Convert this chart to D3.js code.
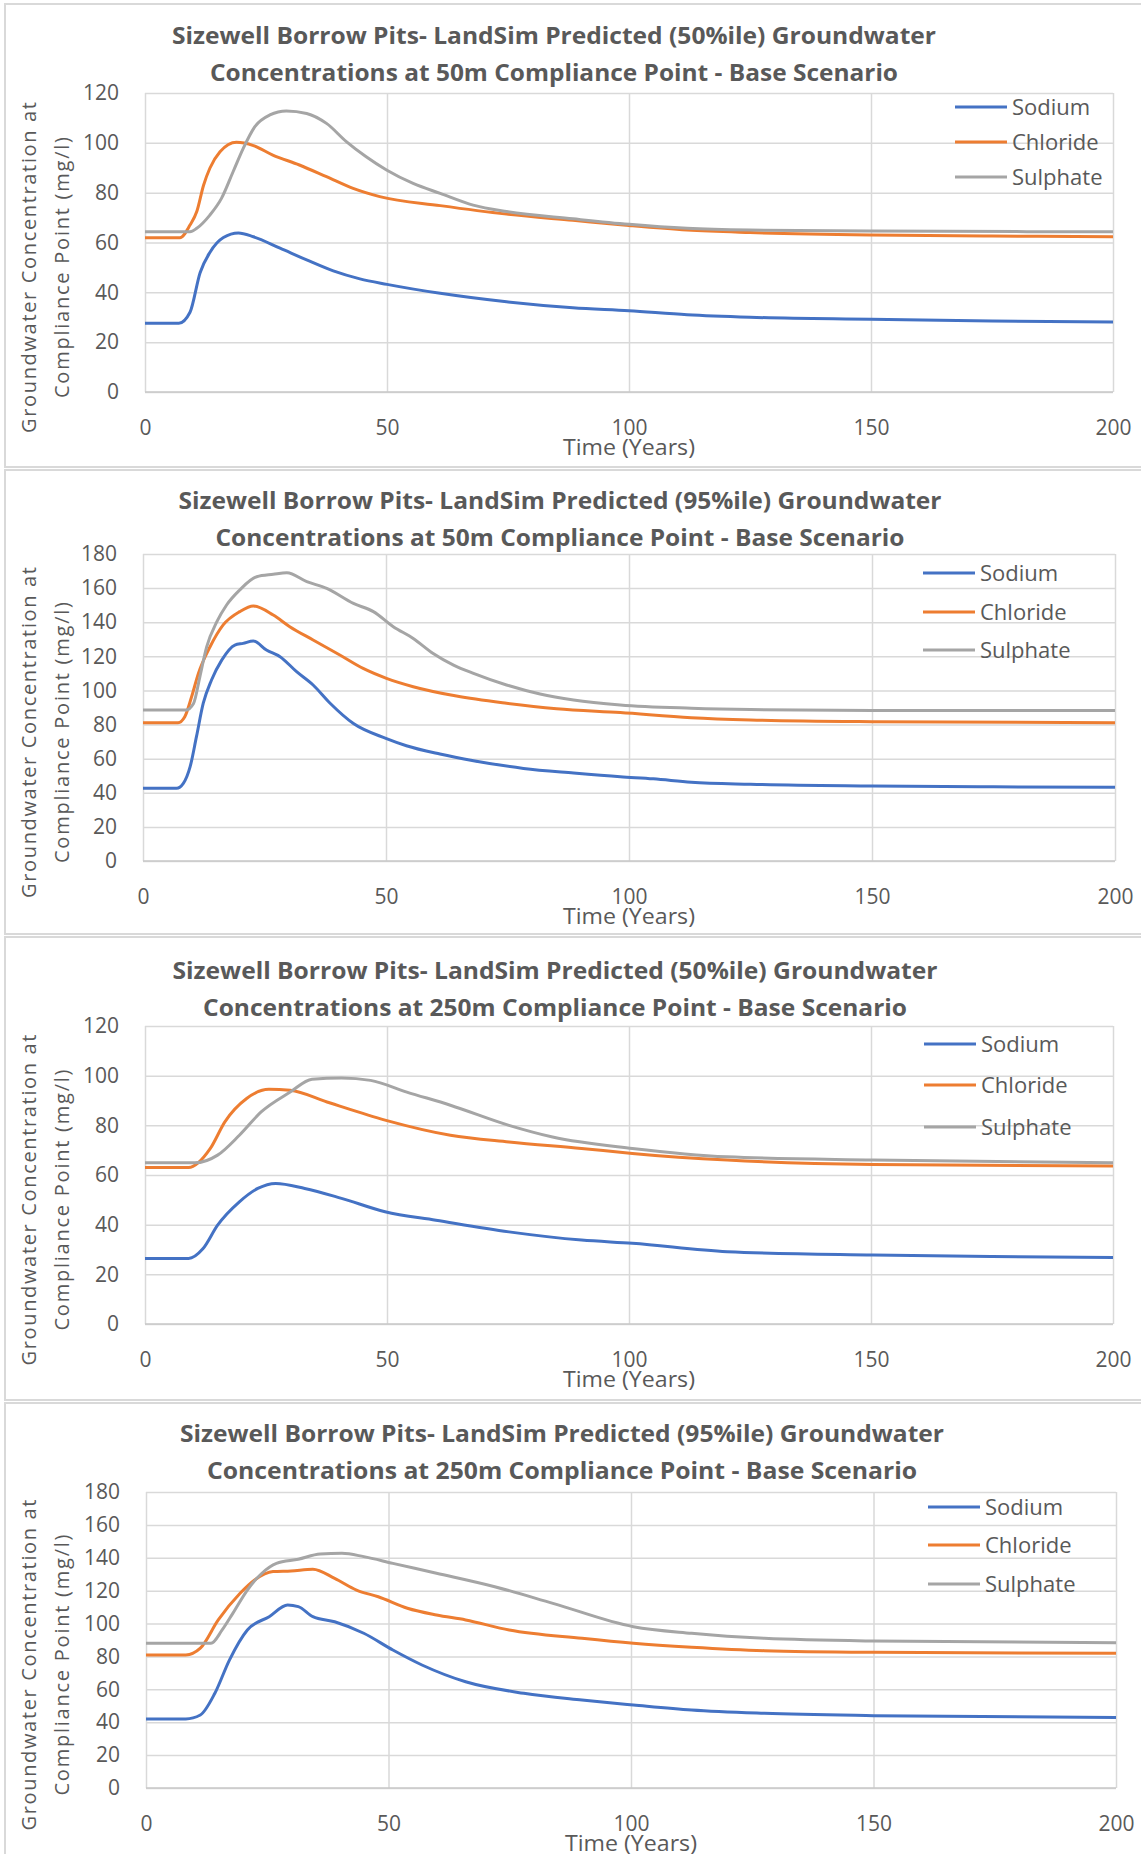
<!DOCTYPE html>
<html>
<head>
<meta charset="utf-8">
<script src="https://cdn.jsdelivr.net/npm/d3@7"></script>
<style>
  body { margin: 0; background: #fff; }
  svg { display: block; }
</style>
</head>
<body>
<div id="chart"></div>
<script>
// loading data
var seriesNames = ["Sodium", "Chloride", "Sulphate"];
var seriesColors = ["#4472C4", "#ED7D31", "#A5A5A5"];
var xTicks = [0, 50, 100, 150, 200];
var yTicks120 = [0, 20, 40, 60, 80, 100, 120];
var yTicks180 = [0, 20, 40, 60, 80, 100, 120, 140, 160, 180];
var xLabel = "Time (Years)";
var yLabel = ["Groundwater Concentration at", "Compliance Point (mg/l)"];

var titles = [
  ["Sizewell Borrow Pits- LandSim Predicted (50%ile) Groundwater", "Concentrations at 50m Compliance Point - Base Scenario"],
  ["Sizewell Borrow Pits- LandSim Predicted (95%ile) Groundwater", "Concentrations at 50m Compliance Point - Base Scenario"],
  ["Sizewell Borrow Pits- LandSim Predicted (50%ile) Groundwater", "Concentrations at 250m Compliance Point - Base Scenario"],
  ["Sizewell Borrow Pits- LandSim Predicted (95%ile) Groundwater", "Concentrations at 250m Compliance Point  - Base Scenario"]
];

// [time, mg/l] pairs
var p1Sodium = [[0,27.6],[7,27.6],[9.3,32],[11.4,48],[13.4,56],[16.2,62],[19.3,63.8],[22.4,62.3],[27.9,57.7],[33.4,53],[38.9,48.6],[44.4,45.4],[50,43.2],[61,39.6],[74.7,36.2],[88.4,33.8],[100,32.6],[112,31],[125,30],[150,29.2],[175,28.5],[200,28.1]];
var p1Chloride = [[0,61.9],[7.2,61.9],[9.3,67],[10.7,72.4],[12.1,83],[13.4,89.8],[15.5,96.4],[18.9,100.2],[22.4,98.9],[26.4,95.1],[31.9,91.1],[37.5,86.4],[43,81.7],[48.5,78.4],[61,74.8],[74.7,71.4],[88.4,68.9],[100,66.8],[112,65],[125,64],[150,63],[175,62.6],[200,62.3]];
var p1Sulphate = [[0,64.3],[9.3,64.3],[10.7,65.7],[13.4,71],[15.8,77.7],[18.2,88.4],[20.3,97.8],[22.7,106.5],[25.8,111.2],[29.2,112.8],[33.4,111.8],[37.5,107.8],[41.6,100.5],[45.7,94.4],[49.9,89.1],[55.4,83.7],[61,79.7],[67.8,75],[74.7,72.4],[88.4,69.5],[100,67.3],[112,65.7],[125,65],[150,64.6],[200,64.3]];

var p2Sodium = [[0,42.6],[6.9,42.6],[8.3,45.5],[9.7,55.3],[11,72.9],[12.4,92.5],[14.1,106.1],[16.2,117.8],[18.9,126.6],[20.6,127.6],[22.7,129],[25.4,123.7],[28.2,119.8],[31.6,111],[35,103.2],[38.5,92.5],[43.3,80.6],[50.1,71.8],[54.2,67.6],[61.1,62.7],[68,58.8],[78.3,54.3],[88.6,51.6],[98.2,49.4],[105,48.2],[112.8,46.2],[125,45],[150,44],[175,43.5],[200,43.2]];
var p2Chloride = [[0,81.1],[7.2,81.1],[8.6,84.6],[10,96.3],[11.4,110],[13.8,125.6],[16.5,138.4],[19.9,146.2],[22.7,149.5],[26.8,144.2],[30.2,137.4],[35,129.6],[40.5,120.8],[45.3,112.9],[50.1,107.1],[55.6,102.2],[64.5,96.7],[74.8,92.5],[85.1,89.3],[98.2,87],[112.8,84],[125,82.7],[150,81.7],[200,81.1]];
var p2Sulphate = [[0,88.5],[8.8,88.5],[10.4,92.4],[11.7,108],[13.1,125.6],[15.2,140.3],[17.2,150.1],[19.9,158.9],[23.4,166.7],[26.8,168.1],[29.6,169],[33.7,163.8],[37.8,159.8],[43.3,151],[47.4,146.2],[51.5,137.4],[55.6,130.5],[59.7,121.7],[63.9,114.9],[68,110],[74.8,103.2],[81.7,97.9],[88.6,94.4],[98.2,91.5],[112.8,89.6],[125,88.8],[150,88.3],[200,88.2]];

var p3Sodium = [[0,26.4],[9,26.4],[12,30.4],[15,39.8],[19.5,49.2],[23.3,54.6],[27,56.6],[33,54.6],[40.6,50.6],[49.6,45.2],[60.1,41.8],[75.2,37.1],[90.2,33.8],[100.7,32.5],[120.3,29.1],[150.4,27.8],[175,27.2],[200,26.8]];
var p3Chloride = [[0,63],[9,63],[13.5,70.7],[16.5,81.4],[21,90.8],[25.6,94.5],[30,94.1],[37.6,89.4],[49.6,82.1],[63.1,76],[75.2,73.3],[90.2,70.7],[100.7,68.7],[120.3,66],[150.4,64.2],[200,63.6]];
var p3Sulphate = [[0,64.9],[10.3,64.9],[15,68],[19.5,76],[24,85.4],[30,93.4],[34.5,98.6],[40.6,99.1],[46.6,98.1],[54.1,93.4],[63.1,88.1],[75.2,80],[84.2,75.3],[100.7,70.7],[120.3,67.3],[150.4,66],[200,64.9]];

var p4Sodium = [[0,42],[8.2,42],[11.2,44.4],[14.2,57.6],[17.2,77.8],[20.9,96.1],[25.4,104.2],[29.2,111.3],[31.4,110.3],[34.4,104.2],[38.9,101.1],[44.9,94.1],[50.9,83.9],[56.9,74.8],[65.9,64.6],[77.9,57.6],[89.9,53.5],[100.5,50.5],[112.5,47.4],[127.5,45.4],[150,44],[200,42.8]];
var p4Chloride = [[0,80.9],[8.2,80.9],[11.2,85],[14.9,102.2],[19.4,118.4],[22.4,126.5],[26.2,131.6],[29.9,132],[34.4,133],[38.9,127.5],[43.4,120.4],[47.9,116.3],[53.9,109.3],[59.9,105.2],[65.9,102.2],[74.9,96.1],[89.9,91],[100.5,88],[112.5,85.6],[127.5,83.5],[150,82.5],[200,81.9]];
var p4Sulphate = [[0,88],[13.4,88],[15.7,96.1],[17.9,106.2],[20.9,120.4],[23.9,130.6],[26.9,136.6],[31.4,139.1],[35.9,142.3],[40.4,142.7],[44.9,140.7],[50.9,136.6],[59.9,130.6],[71.9,122.4],[83.9,112.3],[100.5,98.1],[112.5,94.1],[127.5,91],[150,89.4],[200,88.4]];

// panel layout (pixel positions of each chart box on the page)
var panels = [
  { top: 4,    bottom: 467,  left: 145, right: 1113, plotTop: 93,   plotBottom: 392,  yTicks: yTicks120,
    titleX: 554, titleY: [35, 72],     titleW: [764, 688], legX: 955, legY: [107, 142, 177],
    lines: [p1Sodium, p1Chloride, p1Sulphate] },
  { top: 470,  bottom: 934,  left: 143, right: 1115, plotTop: 554,  plotBottom: 861,  yTicks: yTicks180,
    titleX: 560, titleY: [500, 537],   titleW: [763, 689], legX: 923, legY: [573, 612, 650],
    lines: [p2Sodium, p2Chloride, p2Sulphate] },
  { top: 937,  bottom: 1400, left: 145, right: 1113, plotTop: 1026, plotBottom: 1324, yTicks: yTicks120,
    titleX: 555, titleY: [970, 1007],  titleW: [765, 704], legX: 924, legY: [1044, 1085, 1127],
    lines: [p3Sodium, p3Chloride, p3Sulphate] },
  { top: 1403, bottom: 1870, left: 146, right: 1116, plotTop: 1492, plotBottom: 1788, yTicks: yTicks180,
    titleX: 562, titleY: [1433, 1470], titleW: [764, 710], legX: 928, legY: [1507, 1545, 1584],
    lines: [p4Sodium, p4Chloride, p4Sulphate] }
];

var textColor = "#595959";
var gridColor = "#d9d9d9";
var font = "'Open Sans', 'Liberation Sans', sans-serif";

// appending the svg object to the body of the page
var svg = d3.select("#chart")
  .append("svg")
  .attr("width", 1141)
  .attr("height", 1854)
  .style("font-family", font);

svg.append("rect")
  .attr("width", 1141)
  .attr("height", 1854)
  .attr("fill", "#fff");

function drawPanel(p, i) {
  var yMax = p.yTicks[p.yTicks.length - 1];

  // chart box
  svg.append("rect")
    .attr("x", 5)
    .attr("y", p.top)
    .attr("width", 1160)
    .attr("height", p.bottom - p.top)
    .attr("fill", "#fff")
    .attr("stroke", gridColor)
    .attr("stroke-width", 2);

  var x = d3.scaleLinear().domain([0, 200]).range([p.left, p.right]);
  var y = d3.scaleLinear().domain([0, yMax]).range([p.plotBottom, p.plotTop]);
  var w = p.right - p.left,
      h = p.plotBottom - p.plotTop;

  // y axis + horizontal gridlines
  var yAxis = svg.append("g")
    .attr("transform", "translate(" + p.left + ",0)")
    .call(d3.axisLeft(y).tickValues(p.yTicks).tickSize(-w).tickPadding(26));
  yAxis.select(".domain").remove();
  yAxis.selectAll("line").attr("stroke", gridColor).attr("stroke-width", 1.5);
  yAxis.selectAll("text")
    .attr("fill", textColor)
    .attr("font-size", 21)
    .attr("font-family", font);

  // x axis + vertical gridlines
  var xAxis = svg.append("g")
    .attr("transform", "translate(0," + p.plotBottom + ")")
    .call(d3.axisBottom(x).tickValues(xTicks).tickSize(-h).tickPadding(28));
  xAxis.select(".domain").remove();
  xAxis.selectAll("line").attr("stroke", gridColor).attr("stroke-width", 1.5);
  xAxis.selectAll("text")
    .attr("fill", textColor)
    .attr("font-size", 21)
    .attr("font-family", font);

  // bottom axis line a touch darker
  svg.append("line")
    .attr("x1", x(0)).attr("x2", x(200))
    .attr("y1", y(0)).attr("y2", y(0))
    .attr("stroke", "#c8c8c8")
    .attr("stroke-width", 1.5);

  // x axis title
  svg.append("text")
    .attr("x", (p.left + p.right) / 2)
    .attr("y", p.plotBottom + 56 + 7)
    .attr("text-anchor", "middle")
    .attr("font-size", 21)
    .attr("fill", textColor)
    .attr("textLength", 132)
    .attr("lengthAdjust", "spacingAndGlyphs")
    .text(xLabel);

  // y axis title (two lines)
  var cy = (p.plotTop + p.plotBottom) / 2 + 25;
  var yLens = [331, 261];
  [29, 62].forEach(function(cx, k) {
    svg.append("text")
      .attr("transform", "translate(" + (cx + 7) + "," + cy + ") rotate(-90)")
      .attr("text-anchor", "middle")
      .attr("font-size", 20)
      .attr("fill", textColor)
      .attr("textLength", yLens[k])
      .attr("lengthAdjust", "spacing")
      .text(yLabel[k]);
  });

  // title
  titles[i].forEach(function(t, k) {
    svg.append("text")
      .attr("x", p.titleX)
      .attr("y", p.titleY[k] + 9)
      .attr("text-anchor", "middle")
      .attr("font-size", 24)
      .attr("font-weight", "bold")
      .attr("fill", textColor)
      .attr("textLength", p.titleW[k])
      .attr("lengthAdjust", "spacingAndGlyphs")
      .text(t);
  });

  // lines
  var line = d3.line()
    .x(function(d) { return x(d[0]); })
    .y(function(d) { return y(d[1]); })
    .curve(d3.curveMonotoneX);

  p.lines.forEach(function(data, k) {
    svg.append("path")
      .datum(data)
      .attr("fill", "none")
      .attr("stroke", seriesColors[k])
      .attr("stroke-width", 3)
      .attr("stroke-linejoin", "round")
      .attr("d", line);
  });

  // legend
  seriesNames.forEach(function(name, k) {
    svg.append("line")
      .attr("x1", p.legX).attr("x2", p.legX + 52)
      .attr("y1", p.legY[k]).attr("y2", p.legY[k])
      .attr("stroke", seriesColors[k])
      .attr("stroke-width", 3);
    svg.append("text")
      .attr("x", p.legX + 57)
      .attr("y", p.legY[k] + 8)
      .attr("font-size", 22)
      .attr("fill", textColor)
      .text(name);
  });
}

panels.forEach(drawPanel);
</script>
</body>
</html>
